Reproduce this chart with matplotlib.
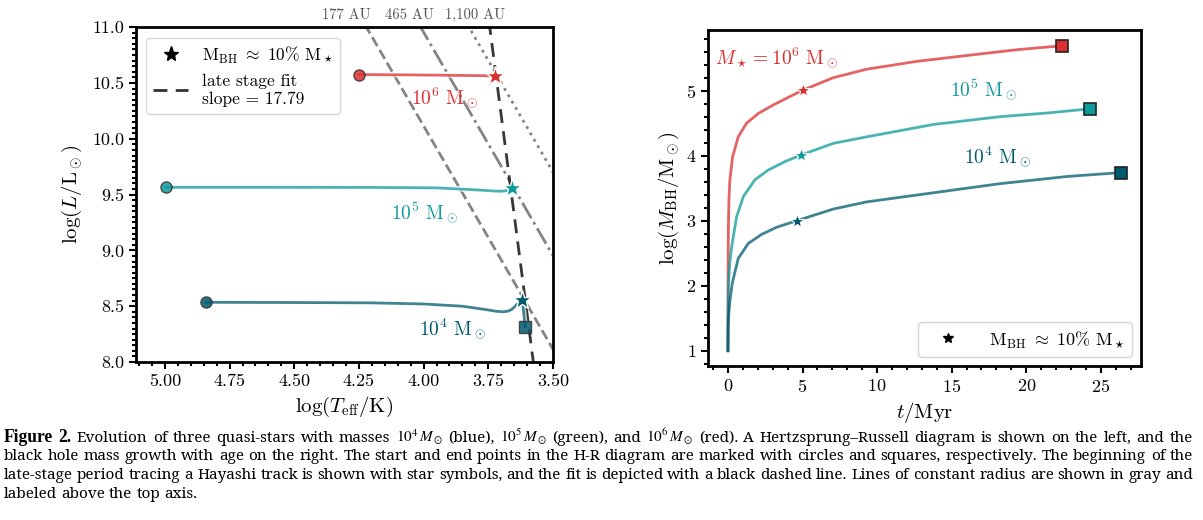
import numpy as np
import matplotlib
matplotlib.use("Agg")
import matplotlib.pyplot as plt
import matplotlib.patheffects as pe
from matplotlib.ticker import MultipleLocator, FormatStrFormatter
from matplotlib.lines import Line2D

plt.rcParams['font.family'] = 'serif'
plt.rcParams['font.serif'] = ['cmr10']
plt.rcParams['mathtext.fontset'] = 'cm'
plt.rcParams['axes.unicode_minus'] = False
plt.rcParams['axes.formatter.use_mathtext'] = True

# colours of the three quasi-stars
c4, c5, c6 = '#005a6e', '#0f9a9a', '#dc2f2f'

# H-R tracks (log Teff, log L)
hr6_T = [4.249, 4.10, 3.95, 3.80, 3.725]
hr6_L = [10.575, 10.573, 10.570, 10.566, 10.563]
hr5_T = [4.996, 4.60, 4.20, 3.95, 3.86, 3.78, 3.73, 3.70, 3.68, 3.665, 3.657]
hr5_L = [9.565, 9.565, 9.564, 9.560, 9.550, 9.540, 9.532, 9.530, 9.535, 9.545, 9.560]
hr4_T = [4.84, 4.50, 4.20, 4.00, 3.85, 3.76, 3.72, 3.694, 3.675, 3.66, 3.648, 3.635, 3.618, 3.612, 3.607]
hr4_L = [8.535, 8.533, 8.530, 8.520, 8.500, 8.470, 8.455, 8.450, 8.455, 8.470, 8.495, 8.525, 8.555, 8.42, 8.316]
# start (circle), Hayashi-track onset (star), end (square)
hr_start = {6: (4.249, 10.575), 5: (4.996, 9.565), 4: (4.84, 8.535)}
hr_star = {6: (3.725, 10.563), 5: (3.657, 9.560), 4: (3.618, 8.555)}
hr_end = {4: (3.607, 8.316)}

fit_slope, fit_icpt = 17.79, -55.61
radii_au = [177, 465, 1100]
radii_lab = ['177 AU', '465 AU', '1,100 AU']
radii_lab_T = [4.30, 4.053, 3.802]
radii_ls = ['--', '-.', ':']

# black hole mass growth (t / Myr, log M_BH)
t6 = [0, 0.01, 0.03, 0.07, 0.13, 0.31, 0.69, 1.25, 2.04, 3.04, 4.16, 5.05, 7.07, 9.31, 12.66, 16.0, 19.4, 22.4]
m6 = [1.0, 2.3, 2.9, 3.35, 3.63, 3.98, 4.29, 4.5, 4.65, 4.78, 4.91, 5.01, 5.2, 5.33, 5.45, 5.54, 5.63, 5.69]
t5 = [0, 0.005, 0.015, 0.04, 0.12, 0.25, 0.58, 1.03, 1.81, 2.71, 3.83, 4.9, 7.07, 9.31, 13.78, 18.26, 21.6, 24.25]
m5 = [1.0, 1.5, 1.8, 2.04, 2.35, 2.6, 3.06, 3.37, 3.63, 3.78, 3.91, 4.01, 4.19, 4.29, 4.48, 4.6, 4.66, 4.72]
t4 = [0, 0.005, 0.015, 0.04, 0.12, 0.29, 0.69, 1.36, 2.26, 3.27, 4.61, 7.07, 9.31, 13.78, 18.26, 22.73, 26.35]
m4 = [1.0, 1.2, 1.35, 1.52, 1.75, 2.04, 2.42, 2.65, 2.79, 2.9, 3.0, 3.18, 3.29, 3.43, 3.57, 3.68, 3.74]
bh_star = {6: (5.05, 5.01), 5: (4.9, 4.01), 4: (4.61, 3.0)}

fig = plt.figure(figsize=(12.03, 5.2), dpi=100)
ax1 = fig.add_axes([0.113, 0.3038, 0.3466, 0.644])
ax2 = fig.add_axes([0.5885, 0.296, 0.36, 0.646])

halo = [pe.Stroke(linewidth=4, foreground='white', alpha=0.6), pe.Normal()]

# ---- left: H-R diagram
Tg = np.array([5.2, 3.4])
for R, ls in zip(radii_au, radii_ls):
    Lg = 2*np.log10(R*215.03) + 4*(Tg - np.log10(5772))
    ax1.plot(Tg, Lg, ls=ls, color='#777777', lw=2, alpha=0.9, zorder=1)
ax1.plot(Tg, fit_slope*Tg + fit_icpt, ls=(0, (5, 3)), color='#222222', lw=2, alpha=0.9, zorder=2)

for T, L, c, k in [(hr6_T, hr6_L, c6, 6), (hr5_T, hr5_L, c5, 5), (hr4_T, hr4_L, c4, 4)]:
    ax1.plot(T, L, color=c, lw=2, alpha=0.75, zorder=3, path_effects=halo)
    ax1.plot(*hr_start[k], 'o', color=c, ms=8, mec='#333333', mew=1, alpha=0.85, zorder=4)
    ax1.plot(*hr_star[k], '*', color=c, ms=14, mec='white', mew=1, zorder=5)
    if k in hr_end:
        ax1.plot(*hr_end[k], 's', color=c, ms=8, mec='#333333', mew=1, alpha=0.85, zorder=4)

ax1.text(3.918, 10.364, r'$10^6\ \mathrm{M}_\odot$', color=c6, fontsize=14, ha='center', va='center')
ax1.text(3.996, 9.334, r'$10^5\ \mathrm{M}_\odot$', color=c5, fontsize=14, ha='center', va='center')
ax1.text(3.887, 8.30, r'$10^4\ \mathrm{M}_\odot$', color=c4, fontsize=14, ha='center', va='center')

for lab, T in zip(radii_lab, radii_lab_T):
    ax1.text(T, 1.035, lab, transform=ax1.get_xaxis_transform(), ha='center', va='center',
             fontsize=10.5, color='#555555')

ax1.set_xlim(5.112, 3.5)
ax1.set_ylim(8.0, 11.0)
ax1.xaxis.set_major_locator(MultipleLocator(0.25))
ax1.xaxis.set_minor_locator(MultipleLocator(0.05))
ax1.yaxis.set_major_locator(MultipleLocator(0.5))
ax1.yaxis.set_minor_locator(MultipleLocator(0.05))
ax1.xaxis.set_major_formatter(FormatStrFormatter('%.2f'))
ax1.yaxis.set_major_formatter(FormatStrFormatter('%.1f'))
ax1.set_xlabel(r'$\log(T_{\rm eff}/\mathrm{K})$', fontsize=15, labelpad=4)
ax1.set_ylabel(r'$\log(L/\mathrm{L}_\odot)$', fontsize=15, labelpad=6)

h1 = [Line2D([], [], ls='none', marker='*', color='k', ms=11),
      Line2D([], [], ls=(0, (5, 3)), color='#333333', lw=2)]
ax1.legend(h1, [r'$\mathrm{M_{BH}}\ \approx\ 10\%\ \mathrm{M}_\star$', 'late stage fit\nslope = 17.79'],
           loc='upper left', fontsize=12.5, handlelength=2.0, borderaxespad=0.6)

# ---- right: black hole mass growth
for t, m, c, k in [(t6, m6, c6, 6), (t5, m5, c5, 5), (t4, m4, c4, 4)]:
    ax2.plot(t, m, color=c, lw=2, alpha=0.75, zorder=3)
    ax2.plot(*bh_star[k], '*', color=c, ms=10, mec='white', mew=0.8, zorder=5)
    ax2.plot(t[-1], m[-1], 's', color=c, ms=8, mec='#222222', mew=1.2, zorder=5)

ax2.text(3.27, 5.50, r'$M_\star = 10^6\ \mathrm{M}_\odot$', color=c6, fontsize=14, ha='center', va='center')
ax2.text(17.1, 5.01, r'$10^5\ \mathrm{M}_\odot$', color=c5, fontsize=14, ha='center', va='center')
ax2.text(18.1, 3.98, r'$10^4\ \mathrm{M}_\odot$', color=c4, fontsize=14, ha='center', va='center')

ax2.set_xlim(-1.34, 27.7)
ax2.set_ylim(0.765, 5.93)
ax2.xaxis.set_major_locator(MultipleLocator(5))
ax2.xaxis.set_minor_locator(MultipleLocator(1))
ax2.yaxis.set_major_locator(MultipleLocator(1))
ax2.yaxis.set_minor_locator(MultipleLocator(0.2))
ax2.set_xlabel(r'$t/\mathrm{Myr}$', fontsize=15, labelpad=4)
ax2.set_ylabel(r'$\log(M_{\rm BH}/\mathrm{M}_\odot)$', fontsize=15, labelpad=3)

h2 = [Line2D([], [], ls='none', marker='*', color='k', ms=7)]
ax2.legend(h2, [r'$\mathrm{M_{BH}}\ \approx\ 10\%\ \mathrm{M}_\star$'], loc='lower right',
           fontsize=13, handlelength=2.5, handletextpad=1.0, borderaxespad=0.5)

for ax in (ax1, ax2):
    for s in ax.spines.values():
        s.set_linewidth(2)
    ax.tick_params(which='both', direction='out', labelsize=13, width=1.5)
    ax.tick_params(which='major', length=5)
    ax.tick_params(which='minor', length=3)

# ---- caption, justified line by line
cap_lines = [
    [('Figure', 'bold'), ('2.', 'bold'), 'Evolution', 'of', 'three', 'quasi-stars', 'with', 'masses',
     r'$10^4\,M_\odot$', '(blue),', r'$10^5\,M_\odot$', '(green),', 'and', r'$10^6\,M_\odot$', '(red).',
     'A', 'Hertzsprung–Russell', 'diagram', 'is', 'shown', 'on', 'the', 'left,', 'and', 'the'],
    'black hole mass growth with age on the right. The start and end points in the H-R diagram are '
    'marked with circles and squares, respectively. The beginning of the'.split(),
    'late-stage period tracing a Hayashi track is shown with star symbols, and the fit is depicted '
    'with a black dashed line. Lines of constant radius are shown in gray and'.split(),
    'labeled above the top axis.'.split(),
]

fig.canvas.draw()
rend = fig.canvas.get_renderer()
W, H = fig.bbox.width, fig.bbox.height
x0, x1 = 4, 1193
fs0 = 10.0
cap_font = 'Noto Serif'
all_items = []
for i, line in enumerate(cap_lines):
    y = 1 - (441.7 + i*18.7)/H
    items = []
    for w in line:
        word, weight = (w if isinstance(w, tuple) else (w, 'normal'))
        fam = 'Liberation Serif' if weight == 'bold' else cap_font
        items.append(fig.text(0, y, word, fontsize=fs0, family=fam, weight=weight,
                              math_fontfamily='stix', va='baseline'))
    all_items.append(items)

# scale the font so line 2 fills the width with normal word spacing
sp = fig.text(0, 0, 'a b', fontsize=fs0, family=cap_font)
sp2 = fig.text(0, 0, 'ab', fontsize=fs0, family=cap_font)
space = sp.get_window_extent(rend).width - sp2.get_window_extent(rend).width
sp.remove(); sp2.remove()
w2 = sum(t.get_window_extent(rend).width for t in all_items[1]) + space*(len(all_items[1]) - 1)
fs = min(fs0*(x1 - x0)/w2*0.995, 11.0)

for i, items in enumerate(all_items):
    for t in items:
        t.set_fontsize(fs*1.15 if t.get_fontfamily()[0] == 'Liberation Serif' else fs)
    widths = [t.get_window_extent(rend).width for t in items]
    if i < len(all_items) - 1:
        gap = (x1 - x0 - sum(widths))/(len(items) - 1)
    else:
        gap = space*fs/fs0
    x = x0
    for t, wd in zip(items, widths):
        t.set_x(x/W)
        x += wd + gap

fig.savefig('out.png', dpi=100)
